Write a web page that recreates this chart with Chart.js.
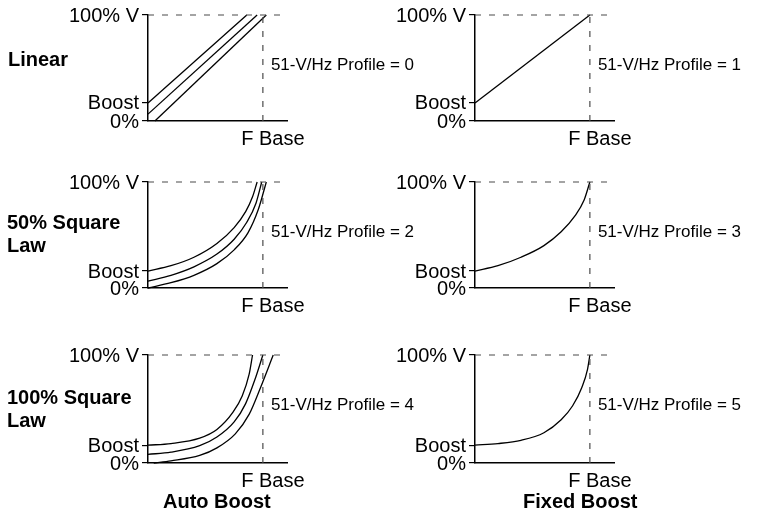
<!DOCTYPE html>
<html>
<head>
<meta charset="utf-8">
<script src="https://cdn.jsdelivr.net/npm/chart.js@4/dist/chart.umd.min.js"></script>
<style>
  body { margin: 0; background: #fff; }
  #wrap { position: relative; width: 764px; height: 511px; background: #fff; overflow: hidden; }
  #wrap canvas { position: absolute; }
  .lbl { position: absolute; font-family: "Liberation Sans", Arial, sans-serif; font-weight: bold; font-size: 20px; color: #000; line-height: 23px; white-space: pre; }
</style>
</head>
<body>
<div id="wrap"></div>
<script>
// labels
const rowLabels = ["Linear", "50% Square\nLaw", "100% Square\nLaw"];
const colLabels = ["Auto Boost", "Fixed Boost"];
const yTickLabels = ["0%", "Boost", "100% V"];
const xTickLabel = "F Base";
const fBase = 1;
const xMax = 1.21;
const boostLevels = [0.17, 0.16, 0.165];
const profileNums = [[0, 1], [2, 3], [4, 5]];

// curves as [freq, volts], freq 1 = F Base, volts 1 = 100%
const linAutoA = [[0, 0.17], [0.86, 1]];
const linAutoB = [[0, 0.065], [0.95, 1]];
const linAutoC = [[0.06, 0], [1.03, 1]];
const linFixed = [[0, 0.17], [1, 1]];

const sq50AutoA = [[0, 0.16], [0.2, 0.21], [0.4, 0.29], [0.6, 0.42], [0.75, 0.57], [0.85, 0.72], [0.91, 0.86], [0.95, 1]];
const sq50AutoB = [[0, 0.065], [0.2, 0.12], [0.4, 0.2], [0.6, 0.32], [0.75, 0.46], [0.86, 0.62], [0.94, 0.8], [0.99, 1]];
const sq50AutoC = [[0, 0], [0.2, 0.05], [0.4, 0.12], [0.6, 0.23], [0.75, 0.36], [0.87, 0.52], [0.96, 0.74], [1.03, 1]];
const sq50Fixed = [[0, 0.16], [0.2, 0.21], [0.4, 0.29], [0.6, 0.4], [0.75, 0.53], [0.87, 0.68], [0.95, 0.83], [1, 1]];

const sq100AutoA = [[0, 0.165], [0.2, 0.18], [0.45, 0.23], [0.6, 0.31], [0.74, 0.47], [0.82, 0.62], [0.88, 0.82], [0.91, 1]];
const sq100AutoB = [[0, 0.08], [0.2, 0.1], [0.45, 0.16], [0.6, 0.24], [0.75, 0.38], [0.85, 0.55], [0.93, 0.77], [1, 1]];
const sq100AutoC = [[0.05, 0], [0.2, 0.02], [0.45, 0.07], [0.6, 0.14], [0.76, 0.27], [0.88, 0.45], [0.98, 0.7], [1.09, 1]];
const sq100Fixed = [[0, 0.165], [0.2, 0.18], [0.4, 0.21], [0.6, 0.28], [0.75, 0.4], [0.85, 0.53], [0.93, 0.7], [0.98, 0.87], [1, 1]];

const curves = [
  [[linAutoA, linAutoB, linAutoC], [linFixed]],
  [[sq50AutoA, sq50AutoB, sq50AutoC], [sq50Fixed]],
  [[sq100AutoA, sq100AutoB, sq100AutoC], [sq100Fixed]]
];

// layout
const FONT = '"Liberation Sans", Arial, sans-serif';
Chart.defaults.font.family = FONT;
Chart.defaults.color = "#000";

const rowTop = [14, 181, 354];
const plotH = [107, 107, 109];
const colLeft = [148, 475];
const yAxisW = 82;
const plotW = 139;
const padTop = 14;
const xAxisH = 30;
const padRight = 145;

const wrap = document.getElementById("wrap");

const profileText = {
  id: "profileText",
  afterDraw(chart, args, opts) {
    const ctx = chart.ctx;
    const x = chart.scales.x.getPixelForValue(fBase) + 8;
    const y = chart.scales.y.getPixelForValue(0.53);
    ctx.save();
    ctx.font = "17px " + FONT;
    ctx.fillStyle = "#000";
    ctx.textBaseline = "middle";
    ctx.fillText("51-V/Hz Profile = " + opts.n, x, y);
    ctx.restore();
  }
};

function toXY(arr) {
  return arr.map(p => ({ x: p[0], y: p[1] }));
}

function makeChart(r, c) {
  const cv = document.createElement("canvas");
  const w = yAxisW + plotW + padRight;
  const h = padTop + plotH[r] + xAxisH;
  cv.width = w;
  cv.height = h;
  cv.style.left = (colLeft[c] - yAxisW) + "px";
  cv.style.top = (rowTop[r] - padTop) + "px";
  wrap.appendChild(cv);

  const guides = [
    { data: toXY([[0, 1], [xMax, 1]]), borderDash: [6, 8] },
    { data: toXY([[fBase, 0], [fBase, 1]]), borderDash: [6, 8] }
  ].map(d => Object.assign(d, {
    borderColor: "#4a4a4a", borderWidth: 1.2, pointRadius: 0, tension: 0, clip: false
  }));

  const lines = curves[r][c].map(arr => ({
    data: toXY(arr),
    borderColor: "#000",
    borderWidth: 1.3,
    pointRadius: 0,
    cubicInterpolationMode: "monotone",
    clip: false
  }));

  new Chart(cv, {
    type: "line",
    data: { datasets: guides.concat(lines) },
    options: {
      responsive: false,
      animation: false,
      events: [],
      layout: { padding: { top: padTop, right: padRight, left: 0, bottom: 0 } },
      plugins: {
        legend: { display: false },
        tooltip: { enabled: false },
        profileText: { n: profileNums[r][c] }
      },
      scales: {
        x: {
          type: "linear",
          min: 0,
          max: xMax,
          afterBuildTicks: s => { s.ticks = [{ value: fBase }]; },
          afterFit: s => { s.height = xAxisH; },
          ticks: {
            autoSkip: false,
            maxRotation: 0,
            padding: 6,
            labelOffset: 10,
            font: { size: 20 },
            callback: () => xTickLabel
          },
          grid: { display: false, drawTicks: false },
          border: { display: true, color: "#000", width: 1.5 }
        },
        y: {
          type: "linear",
          min: 0,
          max: 1,
          afterBuildTicks: s => {
            s.ticks = [0, boostLevels[r], 1].map(v => ({ value: v }));
          },
          afterFit: s => { s.width = yAxisW; },
          ticks: {
            autoSkip: false,
            padding: 3,
            labelOffset: 1,
            font: { size: 20 },
            callback: (v, i) => yTickLabels[i]
          },
          grid: { drawOnChartArea: false, drawTicks: true, tickLength: 6, color: "#000", lineWidth: 1.2 },
          border: { display: true, color: "#000", width: 1.5 }
        }
      }
    },
    plugins: [profileText]
  });
}

for (let r = 0; r < 3; r++) {
  for (let c = 0; c < 2; c++) makeChart(r, c);
}

// row and column captions
const rowLabelPos = [[8, 48], [7, 211], [7, 386]];
rowLabels.forEach((t, i) => {
  const d = document.createElement("div");
  d.className = "lbl";
  d.textContent = t;
  d.style.left = rowLabelPos[i][0] + "px";
  d.style.top = rowLabelPos[i][1] + "px";
  wrap.appendChild(d);
});
const colLabelPos = [[163, 490], [523, 490]];
colLabels.forEach((t, i) => {
  const d = document.createElement("div");
  d.className = "lbl";
  d.textContent = t;
  d.style.left = colLabelPos[i][0] + "px";
  d.style.top = colLabelPos[i][1] + "px";
  wrap.appendChild(d);
});
</script>
</body>
</html>
